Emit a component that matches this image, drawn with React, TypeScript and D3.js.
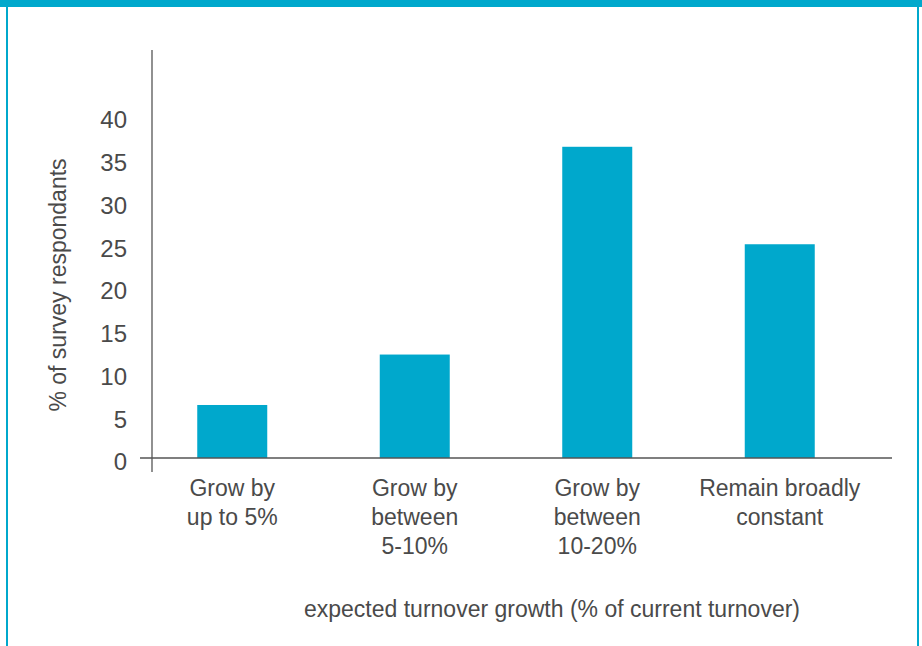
import React from "react";
import * as d3 from "d3";

const categories = ["Grow by|up to 5%", "Grow by|between|5-10%", "Grow by|between|10-20%", "Remain broadly|constant"];
const values = [6.2, 12.1, 36.4, 25.0];
const yTicks = [0, 5, 10, 15, 20, 25, 30, 35, 40];
const yLabel = "% of survey respondants";
const xLabel = "expected turnover growth (% of current turnover)";

const W = 922;
const H = 646;
const BLUE = "#00a8cc";
const FONT = "'Liberation Sans', Arial, sans-serif";
const TEXT = "#4a4a4a";

export default function App() {
  const y = d3.scaleLinear().domain([0, 40]).range([458, 116]);
  const x = d3.scaleBand<string>().domain(categories).range([141, 871]);
  const barW = 70;
  return (
    <svg width={W} height={H} style={{ position: "absolute", left: 0, top: 0, background: "#fff" }}>
      <rect x={0} y={0} width={W} height={7} fill={BLUE} />
      <rect x={6} y={0} width={2} height={H} fill={BLUE} />
      <rect x={917} y={0} width={2} height={H} fill={BLUE} />
      {categories.map((c, i) => {
        const cx = (x(c) as number) + x.bandwidth() / 2;
        return (
          <rect key={c} x={cx - barW / 2} y={y(values[i])} width={barW} height={y(0) - y(values[i])} fill={BLUE} />
        );
      })}
      <line x1={152} x2={152} y1={50} y2={472} stroke="#555" strokeWidth={1.3} />
      <line x1={140} x2={892} y1={y(0)} y2={y(0)} stroke="#555" strokeWidth={1.3} />
      {yTicks.map((t) => (
        <text key={t} x={127} y={y(t) + 4} dy="0.35em" textAnchor="end" fontFamily={FONT} fontSize={24} fill={TEXT}>
          {t}
        </text>
      ))}
      {categories.map((c) => {
        const cx = (x(c) as number) + x.bandwidth() / 2;
        return (
          <text key={c} textAnchor="middle" fontFamily={FONT} fontSize={23} fill={TEXT}>
            {c.split("|").map((line, j) => (
              <tspan key={j} x={cx} y={496 + j * 29}>
                {line}
              </tspan>
            ))}
          </text>
        );
      })}
      <text transform={`translate(66,285) rotate(-90)`} textAnchor="middle" fontFamily={FONT} fontSize={23} fill={TEXT}>
        {yLabel}
      </text>
      <text x={552} y={617} textAnchor="middle" fontFamily={FONT} fontSize={23} fill={TEXT}>
        {xLabel}
      </text>
    </svg>
  );
}
